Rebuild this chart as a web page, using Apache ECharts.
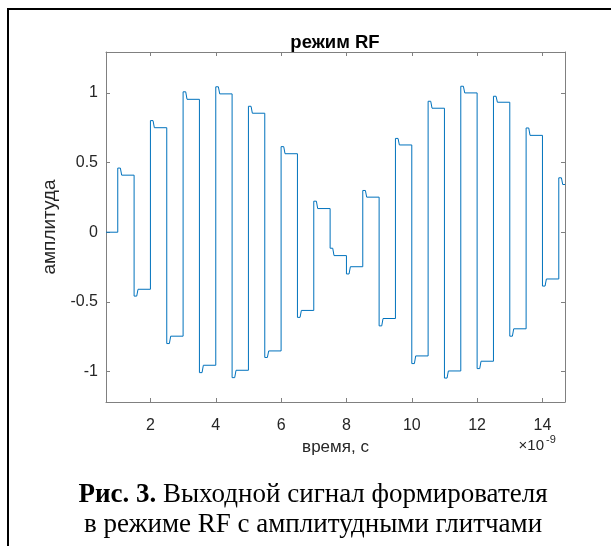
<!DOCTYPE html>
<html>
<head>
<meta charset="utf-8">
<script src="https://cdn.jsdelivr.net/npm/echarts@6/dist/echarts.min.js"></script>
<style>
html, body { margin: 0; padding: 0; background: #fff; }
#chart { width: 611px; height: 546px; }
</style>
</head>
<body>
<div id="chart"></div>
<script>
// начало каждого участка, нс
const stepStarts = [1.0, 1.5, 2.0, 2.5, 3.0, 3.5, 4.0, 4.5, 5.0, 5.5, 6.0, 6.5, 7.0, 7.5,
  8.0, 8.5, 9.0, 9.5, 10.0, 10.5, 11.0, 11.5, 12.0, 12.5, 13.0, 13.5, 14.0, 14.5]
// значение в момент глитча
const glitchValues = [0.461, -0.459, 0.802, -0.80, 1.009, -1.009, 1.045, -1.045, 0.905, -0.90,
  0.615, -0.612, 0.223, -0.115, -0.30, 0.30, -0.673, 0.674, -0.944, 0.941, -1.048, 1.049,
  -0.98, 0.977, -0.747, 0.749, -0.387, 0.391]
// установившееся значение
const settledValues = [0.41, -0.41, 0.751, -0.747, 0.955, -0.956, 0.994, -0.992, 0.855, -0.853,
  0.564, -0.562, 0.170, -0.168, -0.248, 0.252, -0.62, 0.627, -0.889, 0.891, -0.997, 1.001,
  -0.927, 0.934, -0.694, 0.696, -0.336, 0.343]
const xTicks = [2, 4, 6, 8, 10, 12, 14]
const yTicks = [-1, -0.5, 0, 0.5, 1]
const xRange = [0.64, 14.69]
const yRange = [-1.22, 1.295]

const points = [[xRange[0], 0]]
let prev = 0
stepStarts.forEach((t, i) => {
  points.push([t, prev], [t, glitchValues[i]], [t + 0.08, glitchValues[i]], [t + 0.12, settledValues[i]])
  prev = settledValues[i]
})
points.push([xRange[1], prev])

const axisColor = '#808080'
const labelStyle = { color: '#262626', fontFamily: 'Liberation Sans', fontSize: 16 }

const makeX = (pos, showLabel) => ({
  type: 'value', position: pos, min: xRange[0], max: xRange[1],
  axisLine: { show: true, onZero: false, lineStyle: { color: axisColor, width: 1 } },
  axisTick: { show: true, inside: true, length: 4, customValues: xTicks, lineStyle: { color: axisColor } },
  axisLabel: Object.assign({ show: showLabel, margin: 16, customValues: xTicks }, labelStyle),
  splitLine: { show: false }
})
const makeY = (pos, showLabel) => ({
  type: 'value', position: pos, min: yRange[0], max: yRange[1],
  axisLine: { show: true, onZero: false, lineStyle: { color: axisColor, width: 1 } },
  axisTick: { show: true, inside: true, length: 4, customValues: yTicks, lineStyle: { color: axisColor } },
  axisLabel: Object.assign({ show: showLabel, margin: 8, customValues: yTicks }, labelStyle),
  splitLine: { show: false }
})

const xMain = makeX('bottom', true)
xMain.name = 'время, с'
xMain.nameLocation = 'middle'
xMain.nameGap = 37
xMain.nameTextStyle = { color: '#262626', fontFamily: 'Liberation Sans', fontSize: 17 }
const yMain = makeY('left', true)
yMain.name = 'амплитуда'
yMain.nameLocation = 'middle'
yMain.nameGap = 43
yMain.nameTextStyle = { color: '#262626', fontFamily: 'Liberation Sans', fontSize: 19 }

const chart = echarts.init(document.getElementById('chart'))
chart.setOption({
  animation: false,
  backgroundColor: '#fff',
  title: {
    text: 'режим RF', left: 330, top: 28, textAlign: 'center',
    textStyle: { color: '#000', fontFamily: 'Liberation Sans', fontWeight: 'bold', fontSize: 18.5 }
  },
  grid: { left: 106, top: 52, width: 459, height: 350 },
  xAxis: [xMain, makeX('top', false)],
  yAxis: [yMain, makeY('right', false)],
  series: [{
    type: 'line',
    data: points,
    showSymbol: false,
    lineStyle: { color: '#0072BD', width: 1 },
    clip: true
  }],
  graphic: [
    { type: 'line', shape: { x1: 7, y1: 9, x2: 611, y2: 9 }, style: { stroke: '#000', lineWidth: 2 } },
    { type: 'line', shape: { x1: 8, y1: 8, x2: 8, y2: 546 }, style: { stroke: '#000', lineWidth: 2 } },
    {
      type: 'text', x: 544, y: 453,
      style: { text: '×10', textAlign: 'right', textVerticalAlign: 'bottom', fill: '#262626', font: '15px "Liberation Sans"' }
    },
    {
      type: 'text', x: 546, y: 445,
      style: { text: '-9', textAlign: 'left', textVerticalAlign: 'bottom', fill: '#262626', font: '11px "Liberation Sans"' }
    },
    {
      type: 'text', x: 313, y: 495,
      style: {
        text: '{b|Рис. 3.}{r| Выходной сигнал формирователя}',
        textAlign: 'center', textVerticalAlign: 'middle',
        rich: {
          b: { fontFamily: 'Liberation Serif', fontSize: 27, fontWeight: 'bold', fill: '#000' },
          r: { fontFamily: 'Liberation Serif', fontSize: 27, fill: '#000' }
        }
      }
    },
    {
      type: 'text', x: 313, y: 525,
      style: { text: 'в режиме RF с амплитудными глитчами', textAlign: 'center', textVerticalAlign: 'middle', fill: '#000', font: '27px "Liberation Serif"' }
    }
  ]
})
</script>
</body>
</html>
